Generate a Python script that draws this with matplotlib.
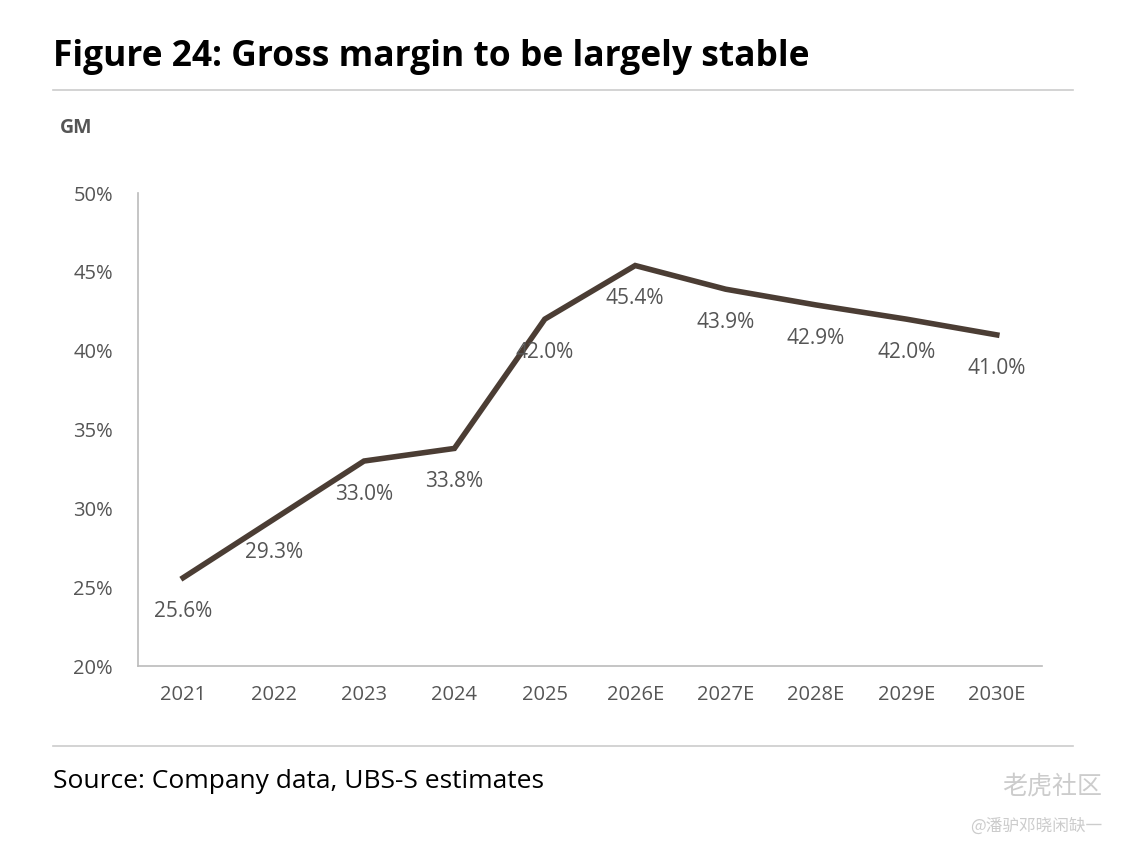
import matplotlib.pyplot as plt

years = ['2021', '2022', '2023', '2024', '2025', '2026E', '2027E', '2028E', '2029E', '2030E']
gm = [25.6, 29.3, 33.0, 33.8, 42.0, 45.4, 43.9, 42.9, 42.0, 41.0]
yticks = [20, 25, 30, 35, 40, 45, 50]

fig = plt.figure(figsize=(11.25, 8.5), dpi=100)
ax = fig.add_axes([138/1125, 1-666/850, 904/1125, (666-193)/850])

x = list(range(len(years)))
ax.plot(x, gm, color='#4b3d34', lw=4, solid_joinstyle='miter')
for xi, v in zip(x, gm):
    ax.annotate(f'{v:.1f}%', (xi, v), xytext=(0, -24), textcoords='offset points',
                ha='center', va='center', fontsize=15, color='#555555', family='Open Sans')

ax.set_xlim(-0.5, len(years) - 0.5)
ax.set_ylim(20, 50)
ax.set_xticks(x)
ax.set_xticklabels(years)
ax.set_yticks(yticks)
ax.set_yticklabels([f'{t}%' for t in yticks])
for s in ['top', 'right']:
    ax.spines[s].set_visible(False)
for s in ['left', 'bottom']:
    ax.spines[s].set_color('#bbbbbb')
    ax.spines[s].set_linewidth(1.2)
ax.tick_params(length=0, labelsize=14.5, labelcolor='#555555', pad=14)
ax.tick_params(axis='y', pad=18)
for lab in ax.get_xticklabels() + ax.get_yticklabels():
    lab.set_family('Open Sans')

fig.text(53/1125, 1-57/850, 'Figure 24: Gross margin to be largely stable', fontsize=25.5,
         fontweight='bold', family='Open Sans', va='center', ha='left')
fig.text(60/1125, 1-128/850, 'GM', fontsize=14, fontweight='bold', color='#555555',
         family='Open Sans', va='center')
fig.add_artist(plt.Line2D([53/1125, 1073/1125], [1-90/850, 1-90/850], color='#cccccc', lw=1.2))
fig.add_artist(plt.Line2D([53/1125, 1073/1125], [1-746/850, 1-746/850], color='#cccccc', lw=1.2))
fig.text(53/1125, 1-781/850, 'Source: Company data, UBS-S estimates', fontsize=19,
         family='Open Sans', va='center', ha='left')
fig.text(1102/1125, 1-786/850, '老虎社区', fontsize=18, color='#cccccc',
         family=['Noto Sans CJK SC', 'DejaVu Sans'], va='center', ha='right')
fig.text(1102/1125, 1-826/850, '@潘驴邓晓闲缺一', fontsize=12, color='#cccccc',
         family=['Noto Sans CJK SC', 'DejaVu Sans'], va='center', ha='right')

fig.savefig('out.png', dpi=100)
